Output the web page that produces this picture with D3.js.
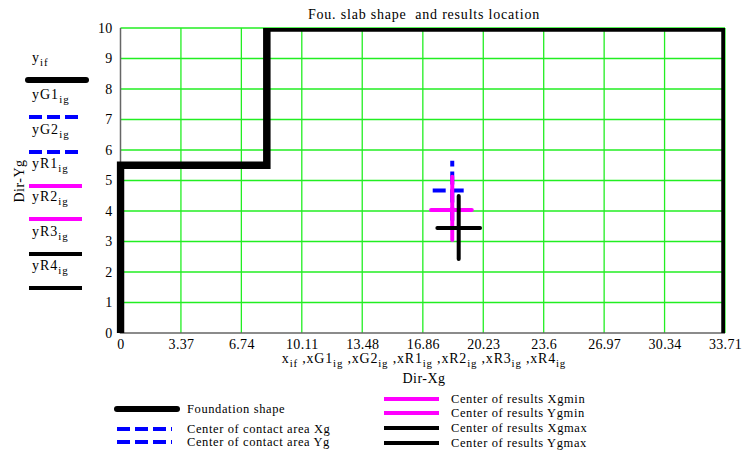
<!DOCTYPE html>
<html>
<head>
<meta charset="utf-8">
<script src="https://cdn.jsdelivr.net/npm/d3@7"></script>
<style>
  body { margin: 0; background: #fff; }
  svg { font-family: "Liberation Serif", "DejaVu Serif", serif; }
</style>
</head>
<body>
<svg width="750" height="454"></svg>
<script>
// foundation outline
var xif = [0, 0, 8.16, 8.16, 33.71, 33.71];
var yif = [0, 5.5, 5.5, 10, 10, 0];
// center of contact area (blue dashed)
var xG1 = [18.5, 18.5],   yG1 = [3.69, 5.65];
var xG2 = [17.41, 19.25], yG2 = [4.67, 4.67];
// centers of results
var xR1 = [18.5, 18.5],   yR1 = [3.05, 5.12];
var xR2 = [17.32, 19.59], yR2 = [4.03, 4.03];
var xR3 = [18.86, 18.86], yR3 = [2.43, 4.49];
var xR4 = [17.67, 20.05], yR4 = [3.44, 3.44];

var xTicks = [0, 3.37, 6.74, 10.11, 13.48, 16.86, 20.23, 23.6, 26.97, 30.34, 33.71];
var yTicks = [0, 1, 2, 3, 4, 5, 6, 7, 8, 9, 10];

var svg = d3.select("svg");
var pL = 120.5, pR = 725, pT = 28, pB = 333;

var x = d3.scaleLinear().domain([0, 33.71]).range([pL, pR]);
var y = d3.scaleLinear().domain([0, 10]).range([pB, pT]);

// grid
var grid = svg.append("g").attr("stroke", "#22ee22").attr("stroke-width", 1.3);
grid.selectAll("line.v").data(xTicks.slice(1)).enter().append("line")
    .attr("x1", d => x(d)).attr("x2", d => x(d))
    .attr("y1", pT).attr("y2", pB);
grid.selectAll("line.h").data(yTicks.slice(1)).enter().append("line")
    .attr("x1", pL).attr("x2", pR)
    .attr("y1", d => y(d)).attr("y2", d => y(d));

// frame (left / bottom)
svg.append("path")
    .attr("d", "M" + pL + "," + pT + "V" + pB + "H" + pR)
    .attr("fill", "none").attr("stroke", "#666").attr("stroke-width", 1.5);

// axes
var xAxis = svg.append("g")
    .attr("transform", "translate(0," + pB + ")")
    .call(d3.axisBottom(x).tickValues(xTicks).tickSize(0).tickPadding(6)
        .tickFormat(d => String(d)));
var yAxis = svg.append("g")
    .attr("transform", "translate(" + pL + ",0)")
    .call(d3.axisLeft(y).tickValues(yTicks).tickSize(0).tickPadding(8));
[xAxis, yAxis].forEach(function (a) {
    a.select(".domain").remove();
    a.selectAll("text").attr("font-family", "Liberation Serif").attr("font-size", 14)
        .attr("letter-spacing", 0.3).attr("fill", "#000");
});

// clip for traces
svg.append("clipPath").attr("id", "plotclip").append("rect")
    .attr("x", pL - 4).attr("y", pT).attr("width", pR - pL + 4).attr("height", pB - pT + 4);

var line = d3.line().x(d => x(d[0])).y(d => y(d[1]));
var traces = [
    {xs: xif, ys: yif, color: "#000", w: 7.5, dash: null, cap: "butt"},
    {xs: xG1, ys: yG1, color: "#0000ff", w: 4, dash: "13,5", cap: "butt"},
    {xs: xG2, ys: yG2, color: "#0000ff", w: 4, dash: "13,5", cap: "butt"},
    {xs: xR1, ys: yR1, color: "#ff00ff", w: 4, dash: null, cap: "round"},
    {xs: xR2, ys: yR2, color: "#ff00ff", w: 4, dash: null, cap: "round"},
    {xs: xR3, ys: yR3, color: "#000", w: 4, dash: null, cap: "round"},
    {xs: xR4, ys: yR4, color: "#000", w: 4, dash: null, cap: "round"}
];
var plot = svg.append("g").attr("clip-path", "url(#plotclip)");
plot.selectAll("path").data(traces).enter().append("path")
    .attr("d", t => line(d3.zip(t.xs, t.ys)))
    .attr("fill", "none")
    .attr("stroke", t => t.color)
    .attr("stroke-width", t => t.w)
    .attr("stroke-dasharray", t => t.dash)
    .attr("stroke-linecap", t => t.cap)
    .attr("stroke-linejoin", "miter");

// title
svg.append("text").attr("x", 424).attr("y", 19).attr("text-anchor", "middle")
    .attr("font-size", 14).attr("letter-spacing", 0.8).style("white-space", "pre")
    .text("Fou. slab shape  and results location");

// subscripted label helper
function subText(g, parts, fs) {
    parts.forEach(function (p) {
        g.append("tspan").attr("font-size", p[1] ? fs * 0.78 : fs)
            .attr("dy", p[1] ? fs * 0.3 : (p[2] ? -fs * 0.3 : null))
            .text(p[0]);
    });
}

// x axis title
var xt = svg.append("text").attr("x", 424).attr("y", 363).attr("text-anchor", "middle")
    .attr("letter-spacing", 0.8).style("white-space", "pre");
var xNames = [["x", "if"], ["xG1", "ig"], ["xG2", "ig"], ["xR1", "ig"], ["xR2", "ig"], ["xR3", "ig"], ["xR4", "ig"]];
var xparts = [];
xNames.forEach(function (n, i) {
    xparts.push([(i ? " ," : "") + n[0], false, i > 0]);
    xparts.push([n[1], true]);
});
subText(xt, xparts, 14);
svg.append("text").attr("x", 424).attr("y", 383).attr("text-anchor", "middle")
    .attr("font-size", 14).attr("letter-spacing", 0.5).text("Dir-Xg");

// y axis title
svg.append("text").attr("transform", "translate(24,181) rotate(-90)")
    .attr("text-anchor", "middle").attr("font-size", 14).attr("letter-spacing", 0.5).text("Dir-Yg");

// left legend (trace names)
var leftNames = [["y", "if"], ["yG1", "ig"], ["yG2", "ig"], ["yR1", "ig"], ["yR2", "ig"], ["yR3", "ig"], ["yR4", "ig"]];
var leftLineY = [80, 117, 152, 186, 219, 254, 288];
leftNames.forEach(function (n, i) {
    var t = traces[i];
    var tx = svg.append("text").attr("x", 32).attr("y", leftLineY[i] - 18).attr("letter-spacing", 1);
    subText(tx, [[n[0], false], [n[1], true]], 14);
    svg.append("line")
        .attr("x1", i ? 29 : 28).attr("x2", i ? 82 : 86)
        .attr("y1", leftLineY[i]).attr("y2", leftLineY[i])
        .attr("stroke", t.color).attr("stroke-width", i ? 3.8 : 6)
        .attr("stroke-dasharray", t.dash ? "13,5" : null)
        .attr("stroke-linecap", i ? "butt" : "round");
});

// bottom legend
var legNames = ["Foundation shape", "Center of contact area Xg", "Center of contact area Yg",
    "Center of results Xgmin", "Center of results Ygmin", "Center of results Xgmax", "Center of results Ygmax"];
var legPos = [[117, 409], [117, 429], [117, 442], [384, 399], [384, 413], [384, 428], [384, 443]];
legNames.forEach(function (name, i) {
    var t = traces[i];
    var p = legPos[i];
    svg.append("line")
        .attr("x1", p[0]).attr("x2", p[0] + (i ? 55 : 60))
        .attr("y1", p[1]).attr("y2", p[1])
        .attr("stroke", t.color).attr("stroke-width", i ? 3.8 : 6)
        .attr("stroke-dasharray", t.dash ? "13,5" : null)
        .attr("stroke-linecap", i ? "butt" : "round");
    svg.append("text").attr("x", p[0] + (i < 3 ? 70 : 67)).attr("y", p[1] + 4)
        .attr("font-size", 12.5).attr("letter-spacing", 0.6).text(name);
});
</script>
</body>
</html>
